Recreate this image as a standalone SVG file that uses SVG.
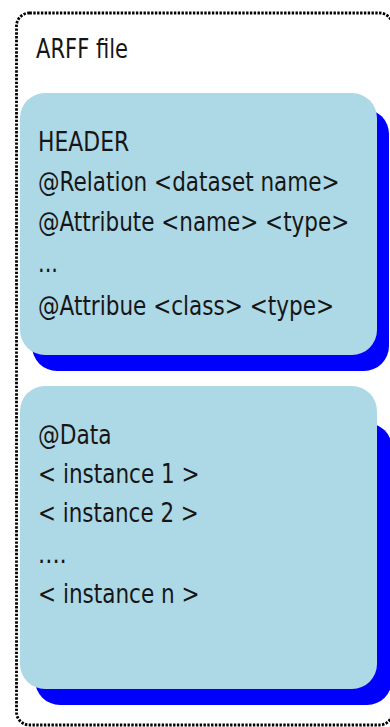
<svg xmlns="http://www.w3.org/2000/svg" width="390" height="727" viewBox="0 0 390 727">
<style>
text{font-family:"DejaVu Sans","Liberation Sans",sans-serif;font-size:27px;fill:#161616}
.box{fill:#ADD8E6}
.shadow{fill:#0000FF}
.frame{fill:none;stroke:#000;stroke-width:2.8;stroke-dasharray:2.4 1.4}
</style>
<rect fill="#fff" width="390" height="727"/>
<g id="arff-file">
<rect class="frame" x="16.5" y="13" width="376" height="712" rx="13"/>
<text transform="matrix(0.8 0 0 1 36 58)" textLength="115" lengthAdjust="spacingAndGlyphs">ARFF file</text>
</g>
<g id="header">
<rect class="shadow" x="32" y="109" width="357" height="262" rx="25"/>
<rect class="box" x="20" y="93" width="357" height="262" rx="25"/>
<text transform="matrix(0.8 0 0 1 38 151)" textLength="114" lengthAdjust="spacingAndGlyphs">HEADER</text>
<text transform="matrix(0.8 0 0 1 38 191)" textLength="377" lengthAdjust="spacingAndGlyphs">@Relation &lt;dataset name&gt;</text>
<text transform="matrix(0.8 0 0 1 38 231)" textLength="389" lengthAdjust="spacingAndGlyphs">@Attribute &lt;name&gt;  &lt;type&gt;</text>
<text transform="matrix(0.8 0 0 1 38 272)" textLength="25" lengthAdjust="spacingAndGlyphs">...</text>
<text transform="matrix(0.8 0 0 1 38 315)" textLength="370" lengthAdjust="spacingAndGlyphs">@Attribue &lt;class&gt; &lt;type&gt;</text>
</g>
<g id="data">
<rect class="shadow" x="35" y="423" width="357" height="282" rx="25"/>
<rect class="box" x="20" y="386" width="357" height="303" rx="25"/>
<text transform="matrix(0.8 0 0 1 38 444)" textLength="92" lengthAdjust="spacingAndGlyphs">@Data</text>
<text transform="matrix(0.8 0 0 1 38 483)" textLength="202" lengthAdjust="spacingAndGlyphs">&lt; instance 1 &gt;</text>
<text transform="matrix(0.8 0 0 1 38 522)" textLength="201" lengthAdjust="spacingAndGlyphs">&lt; instance 2 &gt;</text>
<text transform="matrix(0.8 0 0 1 38 563)" textLength="36" lengthAdjust="spacingAndGlyphs">....</text>
<text transform="matrix(0.8 0 0 1 38 603)" textLength="202" lengthAdjust="spacingAndGlyphs">&lt; instance n &gt;</text>
</g>
<g id="connectors"/>
</svg>
